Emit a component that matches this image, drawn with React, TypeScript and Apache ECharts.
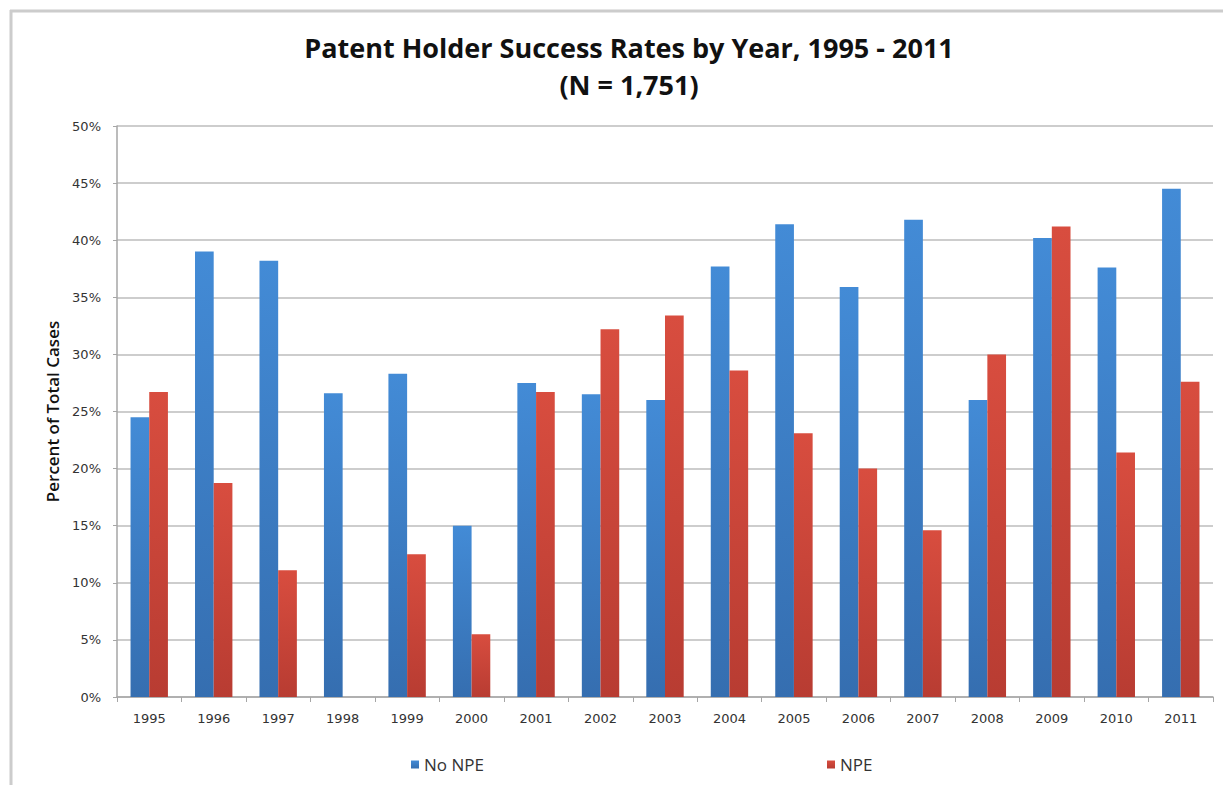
import React, { useEffect, useRef } from "react";
import * as echarts from "echarts";

const years = ["1995","1996","1997","1998","1999","2000","2001","2002","2003","2004","2005","2006","2007","2008","2009","2010","2011"];
const noNpe = [24.5, 39.0, 38.2, 26.6, 28.3, 15.0, 27.5, 26.5, 26.0, 37.7, 41.4, 35.9, 41.8, 26.0, 40.2, 37.6, 44.5];
const npe = [26.7, 18.75, 11.1, 0, 12.5, 5.5, 26.7, 32.2, 33.4, 28.6, 23.1, 20.0, 14.6, 30.0, 41.2, 21.4, 27.6];
const yTicks = { min: 0, max: 50, interval: 5 };

export default function App() {
  const ref = useRef<HTMLDivElement>(null);
  useEffect(() => {
    if (!ref.current) return;
    const chart = echarts.init(ref.current, undefined, { renderer: "svg" });
    const blue = new echarts.graphic.LinearGradient(0, 0, 0, 1, [
      { offset: 0, color: "#438bd6" },
      { offset: 1, color: "#356eb0" },
    ]);
    const red = new echarts.graphic.LinearGradient(0, 0, 0, 1, [
      { offset: 0, color: "#d84d3f" },
      { offset: 1, color: "#b83c32" },
    ]);
    chart.setOption({
      animation: false,
      backgroundColor: "#ffffff",
      title: {
        text: "Patent Holder Success Rates by Year, 1995 - 2011\n(N = 1,751)",
        left: 624,
        top: 24,
        textAlign: "center",
        textStyle: {
          fontFamily: "Open Sans",
          fontSize: 27,
          fontWeight: "bold",
          color: "#111",
          lineHeight: 37,
        },
      },
      graphic: [
        { type: "line", shape: { x1: 10, y1: 11, x2: 1223, y2: 11 }, style: { stroke: "#cccccc", lineWidth: 3 } },
        { type: "line", shape: { x1: 11, y1: 10, x2: 11, y2: 785 }, style: { stroke: "#cccccc", lineWidth: 3 } },
      ],
      legend: [
        {
          data: ["No NPE"],
          left: 406,
          top: 751,
          icon: "rect",
          itemWidth: 8,
          itemHeight: 8,
          textStyle: { fontFamily: "Open Sans", fontSize: 17, color: "#333" },
        },
        {
          data: ["NPE"],
          left: 822,
          top: 751,
          icon: "rect",
          itemWidth: 8,
          itemHeight: 8,
          textStyle: { fontFamily: "Open Sans", fontSize: 17, color: "#333" },
        },
      ],
      grid: { left: 117, right: 10, top: 126, bottom: 88, containLabel: false },
      xAxis: {
        type: "category",
        data: years,
        axisLine: { lineStyle: { color: "#a6a6a6", width: 1.5 } },
        axisTick: { show: true, length: 5, lineStyle: { color: "#a6a6a6" } },
        axisLabel: { fontFamily: "DejaVu Sans", fontSize: 13, color: "#333", margin: 15 },
      },
      yAxis: {
        type: "value",
        min: yTicks.min,
        max: yTicks.max,
        interval: yTicks.interval,
        name: "Percent of Total Cases",
        nameLocation: "middle",
        nameGap: 56,
        nameTextStyle: { fontFamily: "Open Sans", fontSize: 17, fontWeight: 600, color: "#111" },
        axisLine: { show: true, lineStyle: { color: "#a6a6a6", width: 1.5 } },
        axisTick: { show: true, length: 4, lineStyle: { color: "#a6a6a6" } },
        axisLabel: { fontFamily: "DejaVu Sans", fontSize: 13, color: "#333", margin: 16, formatter: "{value}%" },
        splitLine: { lineStyle: { color: "#bdbdbd", width: 1.5 } },
      },
      series: [
        { name: "No NPE", type: "bar", data: noNpe, barGap: "0%", barCategoryGap: "42%", itemStyle: { color: blue } },
        { name: "NPE", type: "bar", data: npe, barGap: "0%", barCategoryGap: "42%", itemStyle: { color: red } },
      ],
    });
    return () => chart.dispose();
  }, []);
  return <div ref={ref} style={{ position: "fixed", left: 0, top: 0, width: 1223, height: 785 }} />;
}
